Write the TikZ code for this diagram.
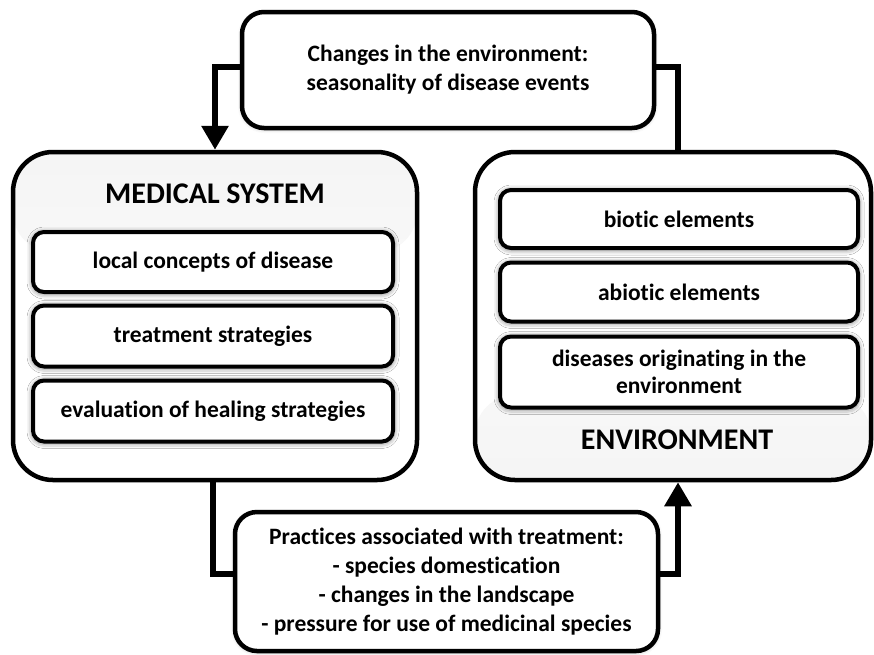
\documentclass[tikz,border=0pt]{standalone}
\usepackage{fontspec}
\setmainfont{Carlito}[Ligatures=NoCommon]
\usetikzlibrary{arrows.meta,shadows.blur}

\tikzset{
  bigbox/.style={draw, line width=4.5pt, rounded corners=40pt, fill=white,
    minimum height=328pt, inner sep=0pt},
  itembox/.style={draw, line width=4pt, rounded corners=11pt, fill=white,
    minimum width=360pt, inner sep=0pt, align=center,
    font=\fontsize{23.5}{27}\selectfont\bfseries,
    blur shadow={shadow xshift=0pt, shadow yshift=-1pt, shadow blur radius=6pt, shadow opacity=65}},
  notebox/.style={draw, line width=4.5pt, rounded corners=22pt, fill=white,
    inner sep=0pt, align=center, font=\fontsize{23.5}{29}\selectfont\bfseries,
    blur shadow={shadow xshift=0pt, shadow yshift=-1pt, shadow blur radius=4pt, shadow opacity=30}},
  boxtitle/.style={font=\fontsize{30}{34}\selectfont\bfseries},
  conn/.style={line width=6pt},
  tip/.style={-{Triangle[width=26pt,length=24pt]}},
}

\begin{document}
\begin{tikzpicture}[x=1pt,y=-1pt]
\useasboundingbox (0,0) rectangle (874,654);

    % Top and bottom notes
    \node[notebox, minimum width=412pt, minimum height=116pt] (changes) at (448,70)
      {Changes in the environment:\\seasonality of disease events};
    \node[notebox, minimum width=423pt, minimum height=139pt] (practices) at (446.5,581.5)
      {Practices associated with treatment:\\- species domestication\\- changes in the landscape\\- pressure for use of medicinal species};

    % Medical system
    \node[bigbox, minimum width=404pt,
      path picture={\shade[top color=black!4, middle color=black!11, bottom color=white]
        (path picture bounding box.north west) rectangle ([yshift=-100pt]path picture bounding box.north east);}]
      (medical) at (215,316) {};
    \node[boxtitle] (medtitle) at (215,194) {MEDICAL SYSTEM};
    \node[itembox, minimum height=60pt] (concepts) at (213,262) {local concepts of disease};
    \node[itembox, minimum height=61pt] (treatment) at (213,336) {treatment strategies};
    \node[itembox, minimum height=61pt] (evaluation) at (213,411) {evaluation of healing strategies};

    % Environment
    \node[bigbox, minimum width=396pt,
      path picture={\shade[top color=white, middle color=black!11, bottom color=black!4]
        ([yshift=85pt]path picture bounding box.south west) rectangle (path picture bounding box.south east);}]
      (environment) at (673,316) {};
    \node[itembox, minimum width=358pt, minimum height=58pt] (biotic) at (679,219) {biotic elements};
    \node[itembox, minimum width=358pt, minimum height=59pt] (abiotic) at (679,292) {abiotic elements};
    \node[itembox, minimum width=358pt, minimum height=71pt] (originating) at (679,372)
      {diseases originating in the\\environment};
    \node[boxtitle] (envtitle) at (677,440) {ENVIRONMENT};

    % Connectors
    \draw[conn, tip] ([yshift=3pt]changes.west) -| (medical.north);
    \draw[conn] ([yshift=3pt]changes.east) -| ([xshift=5pt]environment.north);
    \draw[conn] ([xshift=-2pt]medical.south) |- ([yshift=8pt]practices.west);
    \draw[conn, tip] ([yshift=8pt]practices.east) -| ([xshift=5pt]environment.south);
\end{tikzpicture}
\end{document}
